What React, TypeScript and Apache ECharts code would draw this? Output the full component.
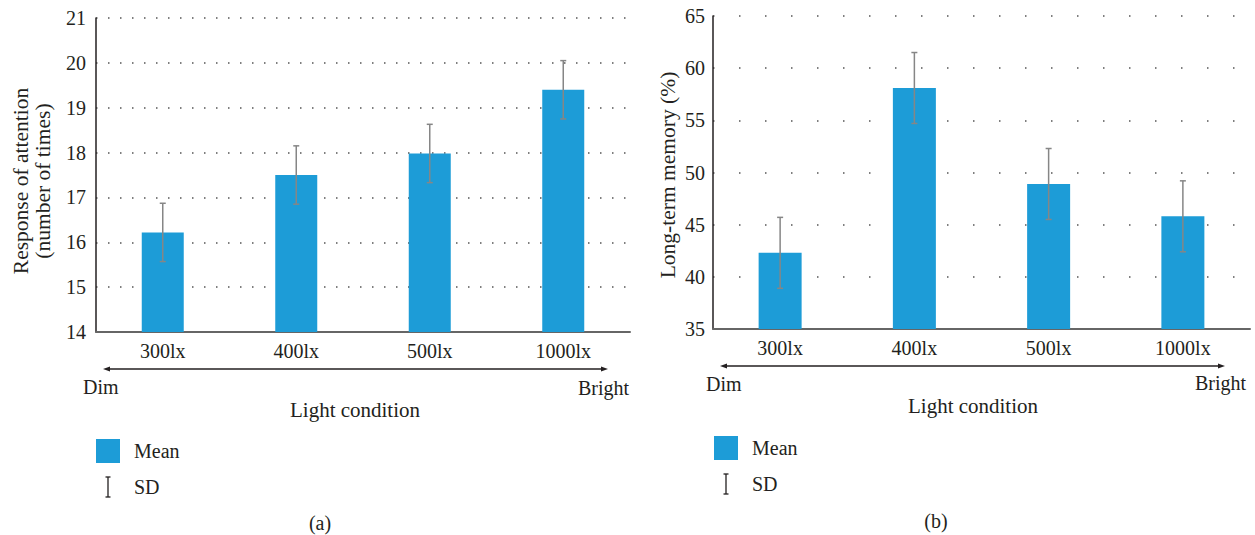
import React, { useEffect, useRef } from "react";
import * as echarts from "echarts";

const categories = ["300lx", "400lx", "500lx", "1000lx"];
const attentionMean = [16.22, 17.5, 17.98, 19.4];
const attentionSD = [0.65, 0.65, 0.65, 0.65];
const memoryMean = [42.3, 58.1, 48.9, 45.8];
const memorySD = [3.4, 3.4, 3.4, 3.4];
const attentionTicks = { min: 14, max: 21, interval: 1 };
const memoryTicks = { min: 35, max: 65, interval: 5 };

const FONT = "'Liberation Serif', 'Times New Roman', 'DejaVu Serif', serif";
const TXT = "#231f20";
const BAR = "#1d9cd7";

function errData(mean: number[], sd: number[]) {
  return mean.map((m, i) => [i, m - sd[i], m + sd[i]]);
}

function errRender(params: any, api: any) {
  const i = api.value(0);
  const lo = api.coord([i, api.value(1)]);
  const hi = api.coord([i, api.value(2)]);
  const style = { stroke: "#868686", lineWidth: 1.5 };
  const cw = 3;
  return {
    type: "group",
    children: [
      { type: "line", shape: { x1: lo[0], y1: lo[1], x2: hi[0], y2: hi[1] }, style },
      { type: "line", shape: { x1: lo[0] - cw, y1: lo[1], x2: lo[0] + cw, y2: lo[1] }, style },
      { type: "line", shape: { x1: hi[0] - cw, y1: hi[1], x2: hi[0] + cw, y2: hi[1] }, style },
    ],
  };
}

function txt(text: string, x: number, y: number, align = "left", extra: any = {}, size = 20) {
  return {
    type: "text",
    x,
    y,
    ...extra,
    style: {
      text,
      fill: TXT,
      fontFamily: FONT,
      fontSize: size,
      align,
      verticalAlign: "middle",
    },
  };
}

function arrow(x1: number, x2: number, y: number) {
  const st = { stroke: TXT, lineWidth: 1.3 };
  return [
    { type: "line", shape: { x1: x1 + 3, y1: y, x2: x2 - 3, y2: y }, style: st },
    { type: "polygon", shape: { points: [[x1, y], [x1 + 7, y - 2.5], [x1 + 7, y + 2.5]] }, style: { fill: TXT } },
    { type: "polygon", shape: { points: [[x2, y], [x2 - 7, y - 2.5], [x2 - 7, y + 2.5]] }, style: { fill: TXT } },
  ];
}

function legend(x: number, y: number) {
  const st = { stroke: TXT, lineWidth: 1.3 };
  const cx = x + 12;
  const sy = y + 38;
  return [
    { type: "rect", shape: { x, y, width: 24, height: 24 }, style: { fill: BAR } },
    txt("Mean", x + 38, y + 12),
    { type: "line", shape: { x1: cx, y1: sy, x2: cx, y2: sy + 20 }, style: st },
    { type: "line", shape: { x1: cx - 2.5, y1: sy, x2: cx + 2.5, y2: sy }, style: st },
    { type: "line", shape: { x1: cx - 2.5, y1: sy + 20, x2: cx + 2.5, y2: sy + 20 }, style: st },
    txt("SD", x + 38, y + 48),
  ];
}

function yAxisCfg(gridIndex: number, t: any, dash: number[], margin: number) {
  return {
    type: "value",
    gridIndex,
    min: t.min,
    max: t.max,
    interval: t.interval,
    axisLine: { show: true, lineStyle: { color: TXT, width: 1.5 } },
    axisTick: { show: false },
    axisLabel: { color: TXT, fontFamily: FONT, fontSize: 20, margin },
    splitLine: { show: true, lineStyle: { color: "#555", width: 1.5, type: dash } },
  };
}

function xAxisCfg(gridIndex: number) {
  return {
    type: "category",
    gridIndex,
    data: categories,
    axisLine: { show: true, lineStyle: { color: "#666", width: 2 } },
    axisTick: { show: false },
    axisLabel: { color: TXT, fontFamily: FONT, fontSize: 20, margin: 9 },
  };
}

export default function App() {
  const ref = useRef<HTMLDivElement>(null);
  useEffect(() => {
    if (!ref.current) return;
    const chart = echarts.init(ref.current, null, { renderer: "svg" });
    chart.setOption({
      animation: false,
      textStyle: { fontFamily: FONT },
      grid: [
        { left: 96, top: 18, width: 534, height: 314 },
        { left: 713, top: 16, width: 537, height: 313 },
      ],
      xAxis: [xAxisCfg(0), xAxisCfg(1)],
      yAxis: [
        yAxisCfg(0, attentionTicks, [1.5, 10.5], 10),
        yAxisCfg(1, memoryTicks, [1.5, 24.5], 8),
      ],
      series: [
        { type: "bar", xAxisIndex: 0, yAxisIndex: 0, data: attentionMean, barWidth: 42, itemStyle: { color: BAR } },
        { type: "custom", xAxisIndex: 0, yAxisIndex: 0, data: errData(attentionMean, attentionSD), renderItem: errRender, z: 5 },
        { type: "bar", xAxisIndex: 1, yAxisIndex: 1, data: memoryMean, barWidth: 43, itemStyle: { color: BAR } },
        { type: "custom", xAxisIndex: 1, yAxisIndex: 1, data: errData(memoryMean, memorySD), renderItem: errRender, z: 5 },
      ],
      graphic: [
        txt("Response of attention", 21, 181, "center", { rotation: Math.PI / 2 }, 21.5),
        txt("(number of times)", 43, 181, "center", { rotation: Math.PI / 2 }, 21.5),
        txt("Long-term memory (%)", 668, 175, "center", { rotation: Math.PI / 2 }, 21.5),
        ...arrow(103, 608, 369),
        ...arrow(720, 1225, 366),
        txt("Dim", 83, 387),
        txt("Bright", 629, 388, "right"),
        txt("Light condition", 355, 410, "center", {}, 21),
        txt("Dim", 706, 384),
        txt("Bright", 1246, 383, "right"),
        txt("Light condition", 973, 406, "center", {}, 21),
        ...legend(96, 439),
        ...legend(714, 436),
        txt("(a)", 320, 523, "center"),
        txt("(b)", 936, 521, "center"),
      ],
    });
    return () => chart.dispose();
  }, []);
  return (
    <div
      ref={ref}
      style={{ position: "fixed", left: 0, top: 0, width: 1255, height: 535, background: "#fff" }}
    />
  );
}
